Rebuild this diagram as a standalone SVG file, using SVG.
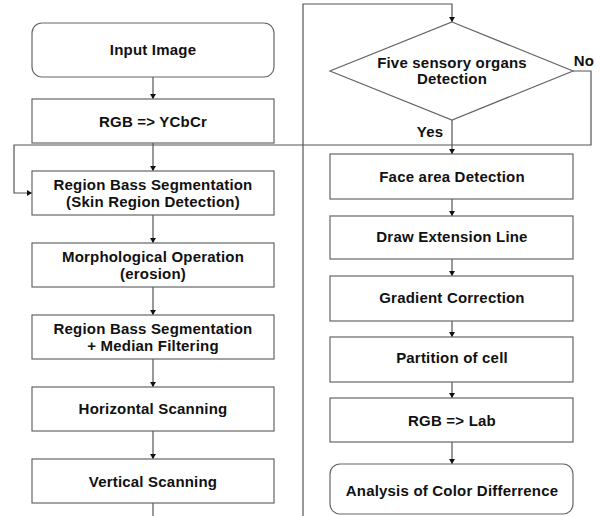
<svg xmlns="http://www.w3.org/2000/svg" width="600" height="516" viewBox="0 0 600 516">
<style>
.box{fill:#fff;stroke:#666;stroke-width:1.2}
.ln{fill:none;stroke:#555;stroke-width:1.2}
text{font-family:"Liberation Sans",Arial,sans-serif;font-weight:bold;font-size:15px;letter-spacing:0.2px;fill:#111;text-anchor:middle}
</style>
<defs>
<marker id="ah" markerWidth="5" markerHeight="7" refX="5" refY="3" orient="auto" markerUnits="userSpaceOnUse">
<path d="M0,0 L5,3 L0,6 Z" fill="#111"/>
</marker>
</defs>
<rect width="600" height="516" fill="#fff"/>
<g id="connectors">
<line class="ln" x1="153" y1="77" x2="153" y2="99" marker-end="url(#ah)"/>
<line class="ln" x1="153" y1="143" x2="153" y2="171" marker-end="url(#ah)"/>
<line class="ln" x1="153" y1="215" x2="153" y2="243" marker-end="url(#ah)"/>
<line class="ln" x1="153" y1="287" x2="153" y2="315" marker-end="url(#ah)"/>
<line class="ln" x1="153" y1="359" x2="153" y2="387" marker-end="url(#ah)"/>
<line class="ln" x1="153" y1="431" x2="153" y2="459" marker-end="url(#ah)"/>
<line class="ln" x1="153" y1="503" x2="153" y2="516"/>
<polyline class="ln" points="303,516 303,4 452,4 452,22" marker-end="url(#ah)"/>
<polyline class="ln" points="573,71 591,71 591,145 14,145 14,193 32,193" marker-end="url(#ah)"/>
<line class="ln" x1="452" y1="120" x2="452" y2="154" marker-end="url(#ah)"/>
<line class="ln" x1="452" y1="199" x2="452" y2="216" marker-end="url(#ah)"/>
<line class="ln" x1="452" y1="259" x2="452" y2="276" marker-end="url(#ah)"/>
<line class="ln" x1="452" y1="321" x2="452" y2="337" marker-end="url(#ah)"/>
<line class="ln" x1="452" y1="382" x2="452" y2="398" marker-end="url(#ah)"/>
<line class="ln" x1="452" y1="442" x2="452" y2="464" marker-end="url(#ah)"/>
<text x="430" y="137">Yes</text>
<text x="584" y="66">No</text>
</g>
<g id="input"><rect class="box" x="32" y="23" width="242" height="54" rx="10"/><text x="153" y="55">Input Image</text></g>
<g id="ycbcr"><rect class="box" x="32" y="99" width="242" height="44"/><text x="153" y="127">RGB =&gt; YCbCr</text></g>
<g id="seg1"><rect class="box" x="32" y="171" width="242" height="44"/><text x="153" y="190">Region Bass Segmentation</text><text x="153" y="207">(Skin Region Detection)</text></g>
<g id="morph"><rect class="box" x="32" y="243" width="242" height="44"/><text x="153" y="262">Morphological Operation</text><text x="153" y="279">(erosion)</text></g>
<g id="seg2"><rect class="box" x="32" y="315" width="242" height="44"/><text x="153" y="334">Region Bass Segmentation</text><text x="153" y="351">+ Median Filtering</text></g>
<g id="hscan"><rect class="box" x="32" y="387" width="242" height="44"/><text x="153" y="414">Horizontal Scanning</text></g>
<g id="vscan"><rect class="box" x="32" y="459" width="242" height="44"/><text x="153" y="487">Vertical Scanning</text></g>
<g id="decision"><polygon class="box" points="452,22 573,71 452,120 330,71"/><text x="452" y="68">Five sensory organs</text><text x="452" y="84">Detection</text></g>
<g id="face"><rect class="box" x="330" y="154" width="243" height="45"/><text x="452" y="182">Face area Detection</text></g>
<g id="ext"><rect class="box" x="330" y="216" width="243" height="43"/><text x="452" y="242">Draw Extension Line</text></g>
<g id="grad"><rect class="box" x="330" y="276" width="243" height="45"/><text x="452" y="303">Gradient Correction</text></g>
<g id="part"><rect class="box" x="330" y="337" width="243" height="45"/><text x="452" y="363">Partition of cell</text></g>
<g id="lab"><rect class="box" x="330" y="398" width="243" height="44"/><text x="452" y="426">RGB =&gt; Lab</text></g>
<g id="analysis"><rect class="box" x="330" y="464" width="243" height="50" rx="10"/><text x="452" y="496">Analysis of Color Differrence</text></g>
</svg>
